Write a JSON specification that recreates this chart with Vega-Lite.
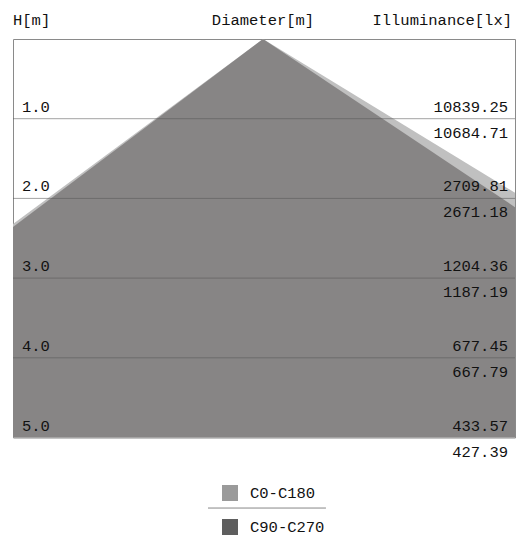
{
  "$schema": "https://vega.github.io/schema/vega-lite/v6.json",
  "autosize": {"type": "none"},
  "padding": {"left": 13, "top": 39, "right": 3, "bottom": 99.5},
  "width": 502,
  "height": 398.5,
  "background": "white",
  "config": {
    "view": {"stroke": "#8a8a8a", "strokeWidth": 1},
    "text": {"font": "Liberation Mono", "fontSize": 15.5, "color": "#111111"}
  },
  "datasets": {
    "beam": [
      {"series": "C0-C180", "d": -3.137, "h": 2.32},
      {"series": "C0-C180", "d": 0, "h": 0},
      {"series": "C0-C180", "d": 3.162, "h": 1.93},
      {"series": "C90-C270", "d": -3.137, "h": 2.36},
      {"series": "C90-C270", "d": 0, "h": 0},
      {"series": "C90-C270", "d": 3.162, "h": 2.11}
    ],
    "levels": [
      {"h": 1, "hl": "1.0", "a": "10839.25", "b": "10684.71"},
      {"h": 2, "hl": "2.0", "a": "2709.81", "b": "2671.18"},
      {"h": 3, "hl": "3.0", "a": "1204.36", "b": "1187.19"},
      {"h": 4, "hl": "4.0", "a": "677.45", "b": "667.79"},
      {"h": 5, "hl": "5.0", "a": "433.57", "b": "427.39"}
    ],
    "keys": [
      {"series": "C0-C180", "d": 0, "h": 3},
      {"series": "C90-C270", "d": 0, "h": 3}
    ],
    "one": [{"k": 1}]
  },
  "layer": [
    {
      "data": {"name": "keys"},
      "mark": {"type": "point", "shape": "square", "filled": true, "size": 1, "opacity": 1},
      "encoding": {
        "x": {"field": "d", "type": "quantitative", "scale": {"domain": [-3.137, 3.162], "nice": false, "zero": false}, "axis": null},
        "y": {"field": "h", "type": "quantitative", "scale": {"domain": [0, 5], "nice": false, "reverse": true}, "axis": null},
        "fill": {
          "field": "series", "type": "nominal",
          "scale": {"domain": ["C0-C180", "C90-C270"], "range": ["#9a9a9a", "#5e5e5e"]},
          "legend": {
            "orient": "none", "legendX": 209, "legendY": 446, "direction": "vertical",
            "title": null, "padding": 0, "symbolType": "square", "symbolSize": 256,
            "symbolStrokeWidth": 0, "symbolOpacity": 1, "rowPadding": 17, "labelOffset": 12,
            "labelFont": "Liberation Mono", "labelFontSize": 15.5, "labelColor": "#111111"
          }
        }
      }
    },
    {
      "data": {"name": "beam"},
      "mark": {"type": "area", "orient": "vertical", "interpolate": "linear"},
      "encoding": {
        "x": {"field": "d", "type": "quantitative"},
        "y": {"field": "h", "type": "quantitative", "stack": null},
        "y2": {"datum": 5},
        "color": {
          "field": "series", "type": "nominal",
          "scale": {"domain": ["C0-C180", "C90-C270"], "range": ["#c0c0c0", "#878585"]},
          "legend": null
        }
      }
    },
    {
      "data": {"name": "levels"},
      "transform": [{"filter": "datum.h < 5"}],
      "mark": {"type": "rule", "color": "#555555", "opacity": 0.55, "strokeWidth": 1},
      "encoding": {"y": {"field": "h", "type": "quantitative"}}
    },
    {
      "data": {"name": "levels"},
      "mark": {"type": "text", "align": "left", "baseline": "alphabetic", "dx": 9, "dy": -7},
      "encoding": {
        "x": {"datum": -3.137},
        "y": {"field": "h", "type": "quantitative"},
        "text": {"field": "hl"}
      }
    },
    {
      "data": {"name": "levels"},
      "mark": {"type": "text", "align": "right", "baseline": "alphabetic", "dx": -7, "dy": -7},
      "encoding": {
        "x": {"datum": 3.162},
        "y": {"field": "h", "type": "quantitative"},
        "text": {"field": "a"}
      }
    },
    {
      "data": {"name": "levels"},
      "mark": {"type": "text", "align": "right", "baseline": "alphabetic", "dx": -7, "dy": 19},
      "encoding": {
        "x": {"datum": 3.162},
        "y": {"field": "h", "type": "quantitative"},
        "text": {"field": "b"}
      }
    },
    {
      "data": {"name": "one"},
      "mark": {"type": "text", "align": "left", "baseline": "alphabetic", "dy": -14},
      "encoding": {"x": {"datum": -3.137}, "y": {"datum": 0}, "text": {"value": "H[m]"}}
    },
    {
      "data": {"name": "one"},
      "mark": {"type": "text", "align": "center", "baseline": "alphabetic", "dy": -14},
      "encoding": {"x": {"datum": 0}, "y": {"datum": 0}, "text": {"value": "Diameter[m]"}}
    },
    {
      "data": {"name": "one"},
      "mark": {"type": "text", "align": "right", "baseline": "alphabetic", "dx": -3, "dy": -14},
      "encoding": {"x": {"datum": 3.162}, "y": {"datum": 0}, "text": {"value": "Illuminance[lx]"}}
    },
    {
      "data": {"name": "one"},
      "mark": {"type": "rule", "color": "#888888", "strokeWidth": 1},
      "encoding": {"x": {"datum": -0.69}, "x2": {"datum": 0.79}, "y": {"datum": 5.885}}
    }
  ]
}
